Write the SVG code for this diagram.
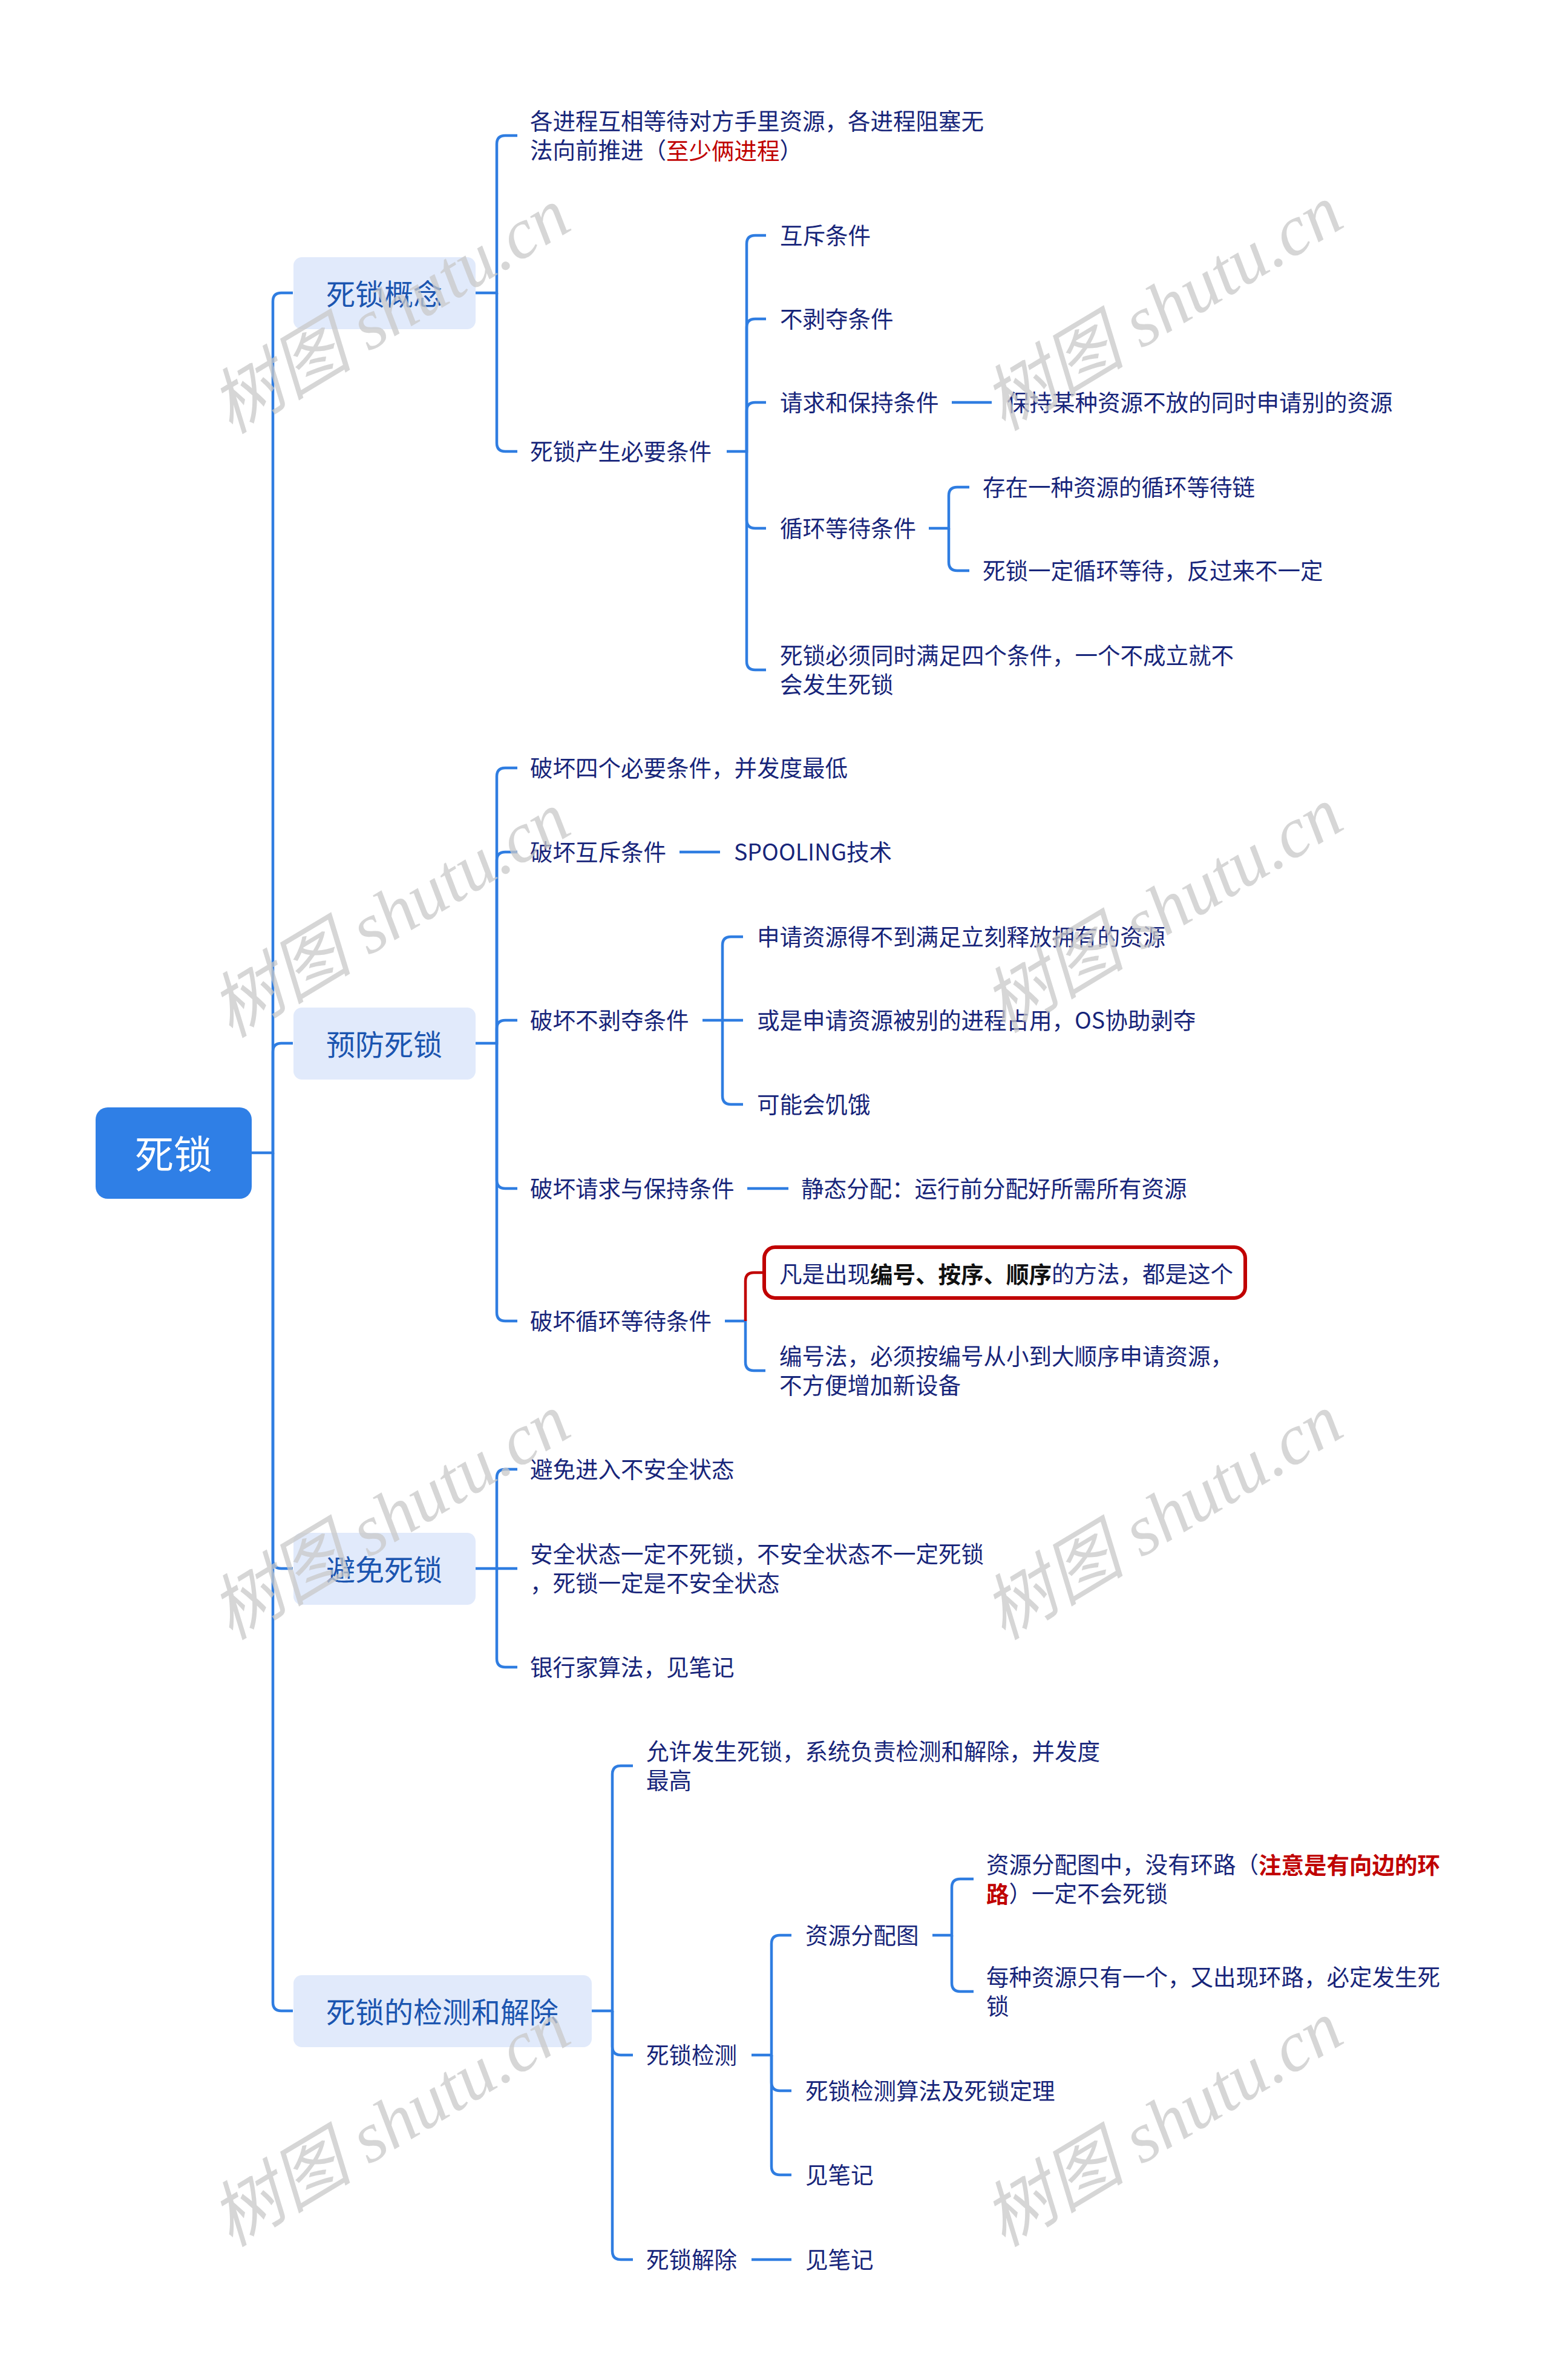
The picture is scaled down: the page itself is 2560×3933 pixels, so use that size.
<svg xmlns="http://www.w3.org/2000/svg" width="2560" height="3933" viewBox="0 0 2560 3933">
<style>
.c{fill:none;stroke:#2f7de1;stroke-width:4.5;stroke-linecap:butt}
.cr{fill:none;stroke:#c00000;stroke-width:4.5}
.t{font-family:"Noto Sans CJK SC","Liberation Sans",sans-serif;font-size:37.5px;fill:#17257a;dominant-baseline:central}
.l1{font-family:"Noto Sans CJK SC","Liberation Sans",sans-serif;font-size:48px;fill:#1b55b0;dominant-baseline:central;text-anchor:middle}
.b1{fill:#e1eafb}
.red{fill:#c00000}
.bk{fill:#111111;font-weight:bold}
.wm{font-family:"Liberation Serif","Noto Sans CJK SC",serif;font-style:italic;font-size:118px;fill:#c8c8c8;fill-opacity:0.75;text-anchor:middle;dominant-baseline:central}
</style>
<rect width="2560" height="3933" fill="#ffffff"/>
<g id="connectors">
<path class="c" d="M416,1905 H451 V498 Q451,484 465,484 H484"/>
<path class="c" d="M451,1905 V1738 Q451,1724 465,1724 H484"/>
<path class="c" d="M451,1905 V2578 Q451,2592 465,2592 H484"/>
<path class="c" d="M451,1905 V3309 Q451,3323 465,3323 H484"/>
<path class="c" d="M786,484 H821 V238 Q821,224 835,224 H855"/>
<path class="c" d="M821,484 V732 Q821,746 835,746 H855"/>
<path class="c" d="M1201,746 H1234 V403 Q1234,389 1248,389 H1266"/>
<path class="c" d="M1234,746 V541 Q1234,527 1248,527 H1266"/>
<path class="c" d="M1234,746 V679 Q1234,665 1248,665 H1266"/>
<path class="c" d="M1234,746 V859 Q1234,873 1248,873 H1266"/>
<path class="c" d="M1234,746 V1093 Q1234,1107 1248,1107 H1266"/>
<path class="c" d="M1573,665 H1639"/>
<path class="c" d="M1535,873 H1568 V819 Q1568,805 1582,805 H1602"/>
<path class="c" d="M1568,873 V929 Q1568,943 1582,943 H1602"/>
<path class="c" d="M786,1724 H821 V1283 Q821,1269 835,1269 H855"/>
<path class="c" d="M821,1724 V1422 Q821,1408 835,1408 H855"/>
<path class="c" d="M821,1724 V1700 Q821,1686 835,1686 H855"/>
<path class="c" d="M821,1724 V1950 Q821,1964 835,1964 H855"/>
<path class="c" d="M821,1724 V2169 Q821,2183 835,2183 H855"/>
<path class="c" d="M1123,1408 H1190"/>
<path class="c" d="M1161,1686 H1228"/>
<path class="c" d="M1194,1686 V1562 Q1194,1548 1208,1548 H1228"/>
<path class="c" d="M1194,1686 V1811 Q1194,1825 1208,1825 H1228"/>
<path class="c" d="M1235,1964 H1303"/>
<path class="c" d="M1198,2183 H1232 V2251 Q1232,2265 1246,2265 H1265"/>
<path class="cr" d="M1232,2183 V2117 Q1232,2103 1246,2103 H1263"/>
<path class="c" d="M786,2592 H855"/>
<path class="c" d="M821,2592 V2442 Q821,2428 835,2428 H855"/>
<path class="c" d="M821,2592 V2741 Q821,2755 835,2755 H855"/>
<path class="c" d="M978,3323 H1012 V2932 Q1012,2918 1026,2918 H1046"/>
<path class="c" d="M1012,3323 V3382 Q1012,3396 1026,3396 H1046"/>
<path class="c" d="M1012,3323 V3720 Q1012,3734 1026,3734 H1046"/>
<path class="c" d="M1242,3396 H1275 V3212 Q1275,3198 1289,3198 H1308"/>
<path class="c" d="M1275,3396 V3441 Q1275,3455 1289,3455 H1308"/>
<path class="c" d="M1275,3396 V3580 Q1275,3594 1289,3594 H1308"/>
<path class="c" d="M1541,3198 H1573 V3119 Q1573,3105 1587,3105 H1609"/>
<path class="c" d="M1573,3198 V3277 Q1573,3291 1587,3291 H1609"/>
<path class="c" d="M1242,3734 H1308"/>
</g>
<g id="root">
<rect x="158" y="1830" width="258" height="151" rx="20" fill="#2f7fe6"/>
<text x="287" y="1903" font-family="Noto Sans CJK SC,Liberation Sans,sans-serif" font-size="64" fill="#ffffff" text-anchor="middle" dominant-baseline="central">死锁</text>
</g>
<g id="n-gainian"><rect class="b1" x="485" y="425" width="301" height="119" rx="14"/><text class="l1" x="635" y="483">死锁概念</text></g>
<g id="n-yufang"><rect class="b1" x="485" y="1665" width="301" height="119" rx="14"/><text class="l1" x="635" y="1723">预防死锁</text></g>
<g id="n-bimian"><rect class="b1" x="485" y="2533" width="301" height="119" rx="14"/><text class="l1" x="635" y="2591">避免死锁</text></g>
<g id="n-jiance"><rect class="b1" x="485" y="3264" width="493" height="119" rx="14"/><text class="l1" x="731" y="3322">死锁的检测和解除</text></g>
<g id="leaves" transform="translate(0,-2.5)">
<g id="n1a"><text class="t" x="876" y="200">各进程互相等待对方手里资源，各进程阻塞无</text><text class="t" x="876" y="248">法向前推进（<tspan class="red">至少俩进程</tspan>）</text></g>
<g id="n1b"><text class="t" x="876" y="746">死锁产生必要条件</text></g>
<g id="n1b1"><text class="t" x="1289" y="389">互斥条件</text></g>
<g id="n1b2"><text class="t" x="1289" y="527">不剥夺条件</text></g>
<g id="n1b3"><text class="t" x="1289" y="665">请求和保持条件</text></g>
<g id="n1b3a"><text class="t" x="1664" y="665">保持某种资源不放的同时申请别的资源</text></g>
<g id="n1b4"><text class="t" x="1289" y="873">循环等待条件</text></g>
<g id="n1b4a"><text class="t" x="1624" y="805">存在一种资源的循环等待链</text></g>
<g id="n1b4b"><text class="t" x="1624" y="943">死锁一定循环等待，反过来不一定</text></g>
<g id="n1b5"><text class="t" x="1289" y="1083">死锁必须同时满足四个条件，一个不成立就不</text><text class="t" x="1289" y="1131">会发生死锁</text></g>
<g id="n2a"><text class="t" x="876" y="1269">破坏四个必要条件，并发度最低</text></g>
<g id="n2b"><text class="t" x="876" y="1408">破坏互斥条件</text></g>
<g id="n2b1"><text class="t" x="1213" y="1408">SPOOLING技术</text></g>
<g id="n2c"><text class="t" x="876" y="1686">破坏不剥夺条件</text></g>
<g id="n2c1"><text class="t" x="1251" y="1548">申请资源得不到满足立刻释放拥有的资源</text></g>
<g id="n2c2"><text class="t" x="1251" y="1686">或是申请资源被别的进程占用，OS协助剥夺</text></g>
<g id="n2c3"><text class="t" x="1251" y="1825">可能会饥饿</text></g>
<g id="n2d"><text class="t" x="876" y="1964">破坏请求与保持条件</text></g>
<g id="n2d1"><text class="t" x="1324" y="1964">静态分配：运行前分配好所需所有资源</text></g>
<g id="n2e"><text class="t" x="876" y="2183">破坏循环等待条件</text></g>
<g id="n2e1"><rect x="1263" y="2063.5" width="795" height="84" rx="18" fill="#ffffff" stroke="#c00000" stroke-width="6"/><text class="t" x="1288" y="2105">凡是出现<tspan class="bk">编号、按序、顺序</tspan>的方法，都是这个</text></g>
<g id="n2e2"><text class="t" x="1288" y="2241">编号法，必须按编号从小到大顺序申请资源，</text><text class="t" x="1288" y="2289">不方便增加新设备</text></g>
<g id="n3a"><text class="t" x="876" y="2428">避免进入不安全状态</text></g>
<g id="n3b"><text class="t" x="876" y="2568">安全状态一定不死锁，不安全状态不一定死锁</text><text class="t" x="876" y="2616">，死锁一定是不安全状态</text></g>
<g id="n3c"><text class="t" x="876" y="2755">银行家算法，见笔记</text></g>
<g id="n4a"><text class="t" x="1068" y="2894">允许发生死锁，系统负责检测和解除，并发度</text><text class="t" x="1068" y="2942">最高</text></g>
<g id="n4b"><text class="t" x="1068" y="3396">死锁检测</text></g>
<g id="n4b1"><text class="t" x="1331" y="3198">资源分配图</text></g>
<g id="n4b1a"><text class="t" x="1630" y="3081">资源分配图中，没有环路（<tspan class="red" font-weight="bold">注意是有向边的环</tspan></text><text class="t" x="1630" y="3129"><tspan class="red" font-weight="bold">路</tspan>）一定不会死锁</text></g>
<g id="n4b1b"><text class="t" x="1630" y="3267">每种资源只有一个，又出现环路，必定发生死</text><text class="t" x="1630" y="3315">锁</text></g>
<g id="n4b2"><text class="t" x="1331" y="3455">死锁检测算法及死锁定理</text></g>
<g id="n4b3"><text class="t" x="1331" y="3594">见笔记</text></g>
<g id="n4c"><text class="t" x="1068" y="3734">死锁解除</text></g>
<g id="n4c1"><text class="t" x="1331" y="3734">见笔记</text></g>
</g>
<g id="watermarks">
<text class="wm" transform="translate(645,514) rotate(-31)">树图 shutu.cn</text>
<text class="wm" transform="translate(1922,509) rotate(-31)">树图 shutu.cn</text>
<text class="wm" transform="translate(645,1512) rotate(-31)">树图 shutu.cn</text>
<text class="wm" transform="translate(1922,1504) rotate(-31)">树图 shutu.cn</text>
<text class="wm" transform="translate(645,2507) rotate(-31)">树图 shutu.cn</text>
<text class="wm" transform="translate(1922,2507) rotate(-31)">树图 shutu.cn</text>
<text class="wm" transform="translate(645,3510) rotate(-31)">树图 shutu.cn</text>
<text class="wm" transform="translate(1922,3510) rotate(-31)">树图 shutu.cn</text>
</g>
</svg>
